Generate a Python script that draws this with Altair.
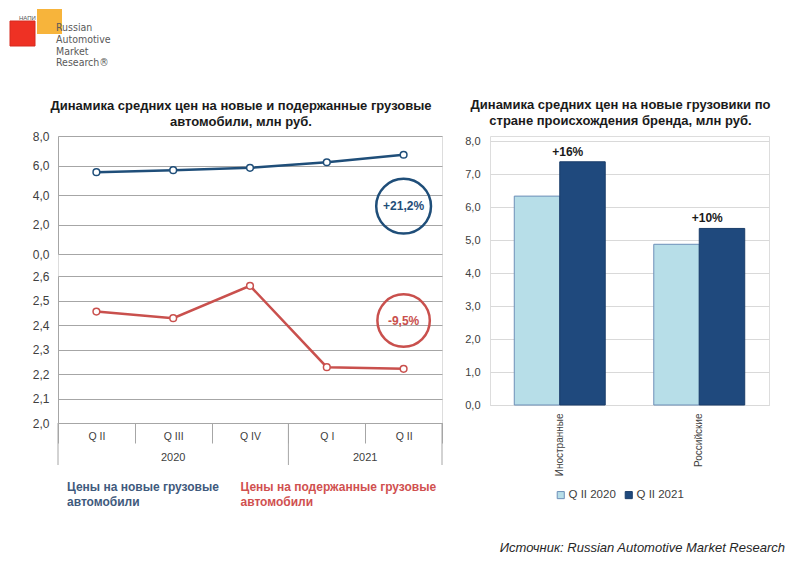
import altair as alt
import pandas as pd

# ---------------- data ----------------
quarters = ["Q II", "Q III", "Q IV", "Q I", "Q II"]
years = ["2020", "2020", "2020", "2021", "2021"]
new_prices = [5.55, 5.68, 5.84, 6.22, 6.73]
used_prices = [2.455, 2.428, 2.56, 2.228, 2.221]
new_change = "+21,2%"
used_change = "-9,5%"

brand_origin = ["Иностранные", "Российские"]
series_names = ["Q II 2020", "Q II 2021"]
price_q2_2020 = [6.33, 4.87]
price_q2_2021 = [7.37, 5.35]
bar_growth = ["+16%", "+10%"]

top_ticks = [0, 2, 4, 6, 8]
bottom_ticks = [2.0, 2.1, 2.2, 2.3, 2.4, 2.5, 2.6]
right_ticks = [0, 1, 2, 3, 4, 5, 6, 7, 8]

left_title = ["Динамика средних цен на новые и подержанные грузовые", "автомобили, млн руб."]
right_title = ["Динамика средних цен на новые грузовики по", "стране происхождения бренда, млн руб."]
legend_new = ["Цены на новые грузовые", "автомобили"]
legend_used = ["Цены на подержанные грузовые", "автомобили"]
source_text = "Источник: Russian Automotive Market Research"
logo_lines = ["Russian", "Automotive", "Market", "Research®"]

# ---------------- style ----------------
FONT = "Liberation Sans"
NARROW = "DejaVu Sans Condensed, Liberation Sans"
BLUE = "#1f4e79"
RED = "#c9504d"
GRID_L = "#a6a6a6"
GRID_R = "#d9d9d9"
LABEL = "#404040"
LIGHT = "#b7dee8"
LIGHT_STROKE = "#6d8fb8"
DARK = "#1f497d"
DARK_STROKE = "#1a3d6a"

W_LEFT, H_TOP, GAP, H_BOT = 384, 118, 22, 147
H_LEFT = H_TOP + GAP + H_BOT
W_RIGHT, H_RIGHT = 279, 269
SPACING = 48
W_LOGO = 1
LX = W_LOGO + SPACING  # logo offsets are given relative to the left plot's origin

num_expr = "replace(format(datum.value, '.1f'), '.', ',')"

keys = [f"{q} {y}" for q, y in zip(quarters, years)]
df_line = pd.DataFrame({"key": keys, "quarter": quarters, "year": years,
                        "new": new_prices, "used": used_prices})

x_scale = alt.Scale(type="band", paddingInner=0, paddingOuter=0)
x_axis_left = alt.Axis(labelExpr="slice(datum.label, 0, -5)", tickBand="extent", ticks=True,
                       tickSize=20, tickColor=GRID_L, domainColor=GRID_L, labelAngle=0,
                       labelFontSize=10.5, labelColor=LABEL, labelFont=FONT,
                       labelPadding=-12, labelOverlap=False, title=None)


def xk(band=0.5):
    return alt.X("key:N", sort=keys, scale=x_scale, bandPosition=band, axis=x_axis_left)


def y_axis(values, grid_color):
    return alt.Axis(values=values, labelExpr=num_expr, grid=True, gridColor=grid_color,
                    gridWidth=1, domain=True, domainColor=grid_color, ticks=False,
                    labelFontSize=12, labelColor=LABEL, labelFont=FONT, labelPadding=9,
                    labelOverlap=False, orient="left", title=None)


one = alt.Data(values=[{}])

# ---------------- logo cell ----------------
logo_red = alt.Chart(one).mark_rect(color="#ee3124", stroke="#d62a1e", strokeWidth=1).encode(
    x=alt.value(LX - 48), x2=alt.value(LX - 23), y=alt.value(-115), y2=alt.value(-90))
logo_orange = alt.Chart(one).mark_rect(color="#f7b030", opacity=0.95).encode(
    x=alt.value(LX - 21), x2=alt.value(LX + 4), y=alt.value(-127), y2=alt.value(-102))
logo_napi = alt.Chart(one).mark_text(text="НАПИ", fontSize=6, color="#555555", font=FONT,
                                     align="left", baseline="middle").encode(
    x=alt.value(LX - 39), y=alt.value(-118))
logo_text = alt.Chart(one).mark_text(text=logo_lines, fontSize=10.5, lineHeight=11.8,
                                     color="#5a5a5a", font=NARROW,
                                     align="left", baseline="top").encode(
    x=alt.value(LX - 2), y=alt.value(-113))
logo = alt.layer(logo_red, logo_orange, logo_napi, logo_text).properties(
    width=W_LOGO, height=1,
    view=alt.ViewBackground(stroke="transparent", fill="transparent"))

# ---------------- left: upper panel (new trucks) ----------------
ax_top = y_axis(top_ticks, GRID_L)
sc_top = alt.Scale(domain=[0, 8], range=[H_TOP, 0], nice=False, zero=False)
base_top = alt.Chart(df_line)
top_line = base_top.mark_line(color=BLUE, strokeWidth=2.5).encode(
    x=xk(), y=alt.Y("new:Q", scale=sc_top, axis=ax_top))
top_pts = base_top.mark_point(filled=True, fill="white", stroke=BLUE, strokeWidth=1.5,
                              size=45, opacity=1).encode(
    x=xk(), y=alt.Y("new:Q", scale=sc_top, axis=ax_top))
ann_top_df = pd.DataFrame({"key": [keys[-1]], "label": [new_change]})
top_circ = alt.Chart(ann_top_df).mark_point(shape="circle", filled=False, size=3000,
                                            strokeWidth=2.5, color=BLUE, opacity=1).encode(
    x=xk(), y=alt.datum(3.24))
top_txt = alt.Chart(ann_top_df).mark_text(fontSize=12, fontWeight="bold", color=BLUE,
                                          font=FONT).encode(
    x=xk(), y=alt.datum(3.24), text="label:N")
top_layer = alt.layer(top_line, top_pts, top_circ, top_txt)

# ---------------- left: lower panel (used trucks) ----------------
ax_bot = y_axis(bottom_ticks, GRID_L)
sc_bot = alt.Scale(domain=[2.0, 2.6], range=[H_LEFT, H_TOP + GAP], nice=False, zero=False)
base_bot = alt.Chart(df_line)
bot_line = base_bot.mark_line(color=RED, strokeWidth=2.5).encode(
    x=xk(), y=alt.Y("used:Q", scale=sc_bot, axis=ax_bot))
bot_pts = base_bot.mark_point(filled=True, fill="white", stroke=RED, strokeWidth=1.5,
                              size=45, opacity=1).encode(
    x=xk(), y=alt.Y("used:Q", scale=sc_bot, axis=ax_bot))
ann_bot_df = pd.DataFrame({"key": [keys[-1]], "label": [used_change]})
bot_circ = alt.Chart(ann_bot_df).mark_point(shape="circle", filled=False, size=2750,
                                            strokeWidth=2.5, color=RED, opacity=1).encode(
    x=xk(), y=alt.datum(2.418))
bot_txt = alt.Chart(ann_bot_df).mark_text(fontSize=12, fontWeight="bold", color=RED,
                                          font=FONT).encode(
    x=xk(), y=alt.datum(2.418), text="label:N")
bot_layer = alt.layer(bot_line, bot_pts, bot_circ, bot_txt)

# ---------------- left: decorations ----------------
first_of_year = [k for i, k in enumerate(keys) if i == 0 or years[i] != years[i - 1]]
div_start = alt.Chart(pd.DataFrame({"key": first_of_year})).mark_rule(
    color=GRID_L, strokeWidth=1).encode(
    x=xk(band=0), y=alt.value(H_LEFT), y2=alt.value(H_LEFT + 42))
div_end = alt.Chart(pd.DataFrame({"key": [keys[-1]]})).mark_rule(
    color=GRID_L, strokeWidth=1).encode(
    x=xk(band=1), y=alt.value(H_LEFT), y2=alt.value(H_LEFT + 42))

year_layers = []
for yr in dict.fromkeys(years):
    ks = [k for k, y in zip(keys, years) if y == yr]
    n = len(ks)
    k, bp = (ks[n // 2], 0.5) if n % 2 else (ks[n // 2], 0)
    year_layers.append(
        alt.Chart(pd.DataFrame({"key": [k], "year": [yr]})).mark_text(
            fontSize=11, color=LABEL, font=FONT, baseline="middle").encode(
            x=xk(band=bp), y=alt.value(H_LEFT + 35), text="year:N"))

leg_new = alt.Chart(one).mark_text(text=legend_new, fontSize=12, fontWeight="bold",
                                   lineHeight=14.6, color="#3f5a7d", font=FONT,
                                   align="left", baseline="top").encode(
    x=alt.value(9), y=alt.value(H_TOP + GAP + 206))
leg_used = alt.Chart(one).mark_text(text=legend_used, fontSize=12, fontWeight="bold",
                                    lineHeight=14.6, color="#d0504f", font=FONT,
                                    align="left", baseline="top").encode(
    x=alt.value(182.5), y=alt.value(H_TOP + GAP + 206))

left = alt.layer(top_layer, bot_layer, div_start, div_end, *year_layers,
                 leg_new, leg_used).resolve_scale(y="independent").properties(
    width=W_LEFT, height=H_LEFT,
    title=alt.Title(left_title, fontSize=13, fontWeight="bold", font=FONT, color="#1a1a1a",
                    anchor="middle", frame="group", dx=-9, dy=2, offset=3, lineHeight=16))

# ---------------- right chart ----------------
df_bar = pd.DataFrame({
    "origin": brand_origin * 2,
    "series": [series_names[0]] * len(brand_origin) + [series_names[1]] * len(brand_origin),
    "value": price_q2_2020 + price_q2_2021,
})
df_lab = pd.DataFrame({"origin": brand_origin, "label": bar_growth, "value": price_q2_2021})

ax_xr = alt.Axis(labelAngle=-90, labelFontSize=10, labelColor=LABEL, labelFont=FONT,
                 labelPadding=8, ticks=False, domainColor=GRID_R, title=None)
sc_xr = alt.Scale(paddingInner=0.348, paddingOuter=0.174)
ax_yr = alt.Axis(values=right_ticks, tickCount=9, labelExpr=num_expr, grid=True,
                 gridColor=GRID_R, domain=False, ticks=False, labelFontSize=11,
                 labelColor=LABEL, labelFont=FONT, labelPadding=10, labelOverlap=False,
                 title=None)
sc_yr = alt.Scale(domain=[0, 8 * H_RIGHT / 264], nice=False)

bars = alt.Chart(df_bar).mark_bar(strokeWidth=1).encode(
    x=alt.X("origin:N", sort=brand_origin, scale=sc_xr, axis=ax_xr),
    xOffset=alt.XOffset("series:N", sort=series_names,
                        scale=alt.Scale(paddingInner=0, paddingOuter=0)),
    y=alt.Y("value:Q", scale=sc_yr, axis=ax_yr),
    color=alt.Color("series:N", sort=series_names,
                    scale=alt.Scale(domain=series_names, range=[LIGHT, DARK]),
                    legend=alt.Legend(orient="none", legendX=65, legendY=353,
                                      direction="horizontal", title=None,
                                      symbolType="square", symbolSize=50,
                                      symbolStrokeColor=LIGHT_STROKE, symbolStrokeWidth=1,
                                      labelFontSize=11.5, labelColor=LABEL, labelFont=FONT,
                                      labelOffset=2, columnPadding=7)),
    stroke=alt.Stroke("series:N", sort=series_names,
                      scale=alt.Scale(domain=series_names, range=[LIGHT_STROKE, DARK_STROKE]),
                      legend=None),
)
bar_labels = alt.Chart(df_lab).mark_text(fontSize=12, fontWeight="bold", color="#1a1a1a",
                                         font=FONT, baseline="bottom", dy=-3, dx=8).encode(
    x=alt.X("origin:N", sort=brand_origin, scale=sc_xr, axis=ax_xr),
    y=alt.Y("value:Q", scale=sc_yr, axis=ax_yr),
    text="label:N")

source = alt.Chart(one).mark_text(text=source_text, fontSize=13, fontStyle="italic",
                                  color="#262626", font=FONT, align="right",
                                  baseline="middle").encode(
    x=alt.value(W_RIGHT + 16), y=alt.value(412))

right = alt.layer(bars, bar_labels, source).properties(
    width=W_RIGHT, height=H_RIGHT,
    title=alt.Title(right_title, fontSize=13, fontWeight="bold", font=FONT, color="#1a1a1a",
                    anchor="middle", frame="group", dx=-9, dy=1, offset=8, lineHeight=16))

chart = alt.hconcat(logo, left, right, spacing=SPACING, bounds="flush").resolve_scale(
    color="independent", stroke="independent"
).resolve_legend(color="independent", stroke="independent").properties(
    padding=0
).configure_view(stroke=None).configure(font=FONT, background="white")

chart.save("out.html", embed_options={"renderer": "svg", "actions": False})
